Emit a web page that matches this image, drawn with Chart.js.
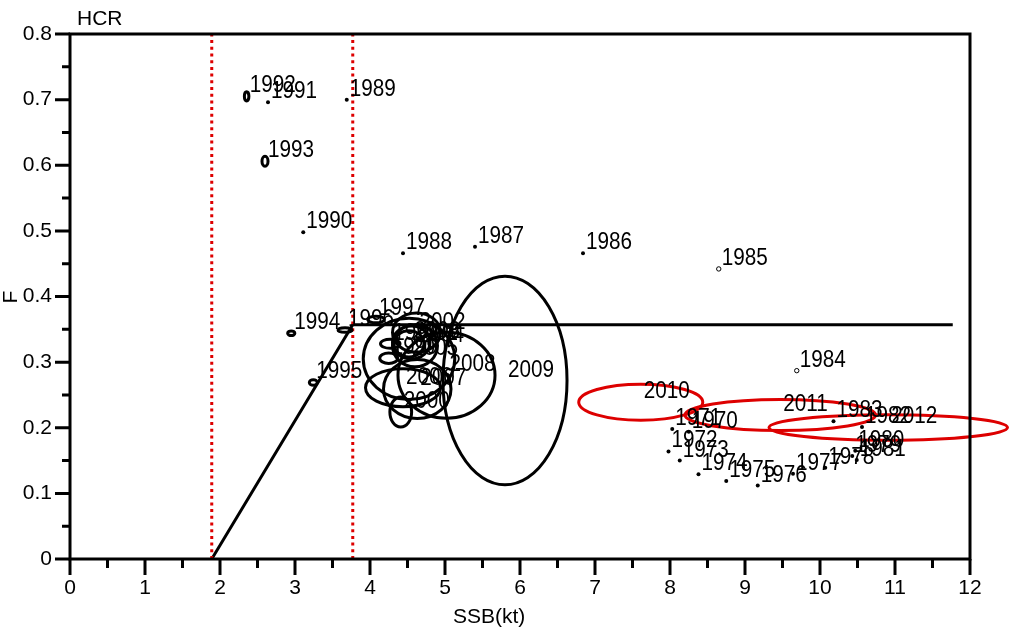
<!DOCTYPE html>
<html>
<head>
<meta charset="utf-8">
<script src="https://cdn.jsdelivr.net/npm/chart.js@4.4.0/dist/chart.umd.min.js"></script>
<style>
  html, body { margin: 0; padding: 0; background: #fff; }
  canvas { display: block; }
</style>
</head>
<body>
<canvas id="grafico" width="1010" height="630"></canvas>
<script>
// anos e estimativas (SSB em kt, F)
const anos = [1970, 1971, 1972, 1973, 1974, 1975, 1976, 1977, 1978, 1979,
  1980, 1981, 1982, 1983, 1984, 1985, 1986, 1987, 1988, 1989,
  1990, 1991, 1992, 1993, 1994, 1995, 1996, 1997, 1998, 1999,
  2000, 2001, 2002, 2003, 2004, 2005, 2006, 2007, 2008, 2009,
  2010, 2011, 2012];
const ssb = [8.25, 8.03, 7.98, 8.13, 8.38, 8.75, 9.17, 9.64, 10.07, 10.43,
  10.47, 10.49, 10.56, 10.18, 9.69, 8.65, 6.84, 5.40, 4.44, 3.69,
  3.11, 2.64, 2.355, 2.60, 2.95, 3.244, 3.667, 4.08, 4.27, 4.25,
  4.41, 4.52, 4.62, 4.55, 4.6, 4.52, 4.44, 4.63, 5.02, 5.8,
  7.61, 9.47, 10.91];
const fbar = [0.194, 0.198, 0.164, 0.150, 0.129, 0.119, 0.112, 0.130, 0.139, 0.157,
  0.165, 0.151, 0.201, 0.210, 0.287, 0.442, 0.466, 0.476, 0.466, 0.700,
  0.498, 0.696, 0.705, 0.606, 0.344, 0.269, 0.349, 0.365, 0.328, 0.306,
  0.224, 0.328, 0.345, 0.33, 0.325, 0.305, 0.261, 0.259, 0.28, 0.272,
  0.239, 0.2195, 0.2005];
// meia-largura (kt) e meia-altura (F) das elipses de confianca
const incSsb = [0, 0, 0, 0, 0, 0, 0, 0, 0, 0,
  0, 0, 0, 0, 0, 0, 0, 0, 0, 0,
  0, 0, 0.03, 0.04, 0.048, 0.053, 0.093, 0.11, 0.13, 0.12,
  0.145, 0.2, 0.32, 0.25, 0.3, 0.61, 0.5, 0.45, 0.647, 0.827,
  0.827, 1.27, 1.59];
const incF = [0, 0, 0, 0, 0, 0, 0, 0, 0, 0,
  0, 0, 0, 0, 0, 0, 0, 0, 0, 0,
  0, 0, 0.007, 0.0076, 0.0035, 0.0043, 0.0035, 0.005, 0.007, 0.008,
  0.023, 0.02, 0.03, 0.025, 0.032, 0.062, 0.029, 0.045, 0.0655, 0.159,
  0.0274, 0.0236, 0.0194];
const abertos = [1984, 1985];

// regra de controle (HCR) e pontos de referencia
const hcrSsb = [1.89, 3.77, 11.77];
const hcrF = [0, 0.357, 0.357];
const bLim = 1.89;
const bTrigger = 3.77;

const xTicks = [0, 1, 2, 3, 4, 5, 6, 7, 8, 9, 10, 11, 12];
const yTicks = [0, 0.1, 0.2, 0.3, 0.4, 0.5, 0.6, 0.7, 0.8];

const preto = '#000000';
const vermelho = '#dd0000';

const pontos = anos.map((a, i) => ({ x: ssb[i], y: fbar[i] }));

const desenhos = {
  id: 'desenhos',
  afterDatasetsDraw(chart) {
    const { ctx, scales: { x, y } } = chart;
    ctx.save();
    anos.forEach((ano, i) => {
      if (!incSsb[i]) return;
      const cx = x.getPixelForValue(ssb[i]);
      const cy = y.getPixelForValue(fbar[i]);
      const rx = Math.abs(x.getPixelForValue(ssb[i] + incSsb[i]) - cx);
      const ry = Math.abs(y.getPixelForValue(fbar[i] + incF[i]) - cy);
      ctx.beginPath();
      ctx.ellipse(cx, cy, rx, ry, 0, 0, Math.PI * 2);
      ctx.lineWidth = 3;
      ctx.strokeStyle = ano >= 2010 ? vermelho : preto;
      ctx.stroke();
    });
    ctx.fillStyle = preto;
    ctx.font = '23px "Liberation Sans", Arial, sans-serif';
    ctx.textBaseline = 'alphabetic';
    anos.forEach((ano, i) => {
      const px = x.getPixelForValue(ssb[i]);
      const py = y.getPixelForValue(fbar[i]);
      ctx.save();
      ctx.translate(px + 3, py - 4);
      ctx.scale(0.9, 1);
      ctx.fillText(String(ano), 0, 0);
      ctx.restore();
    });
    ctx.restore();
  },
  afterDraw(chart) {
    const { ctx, chartArea: a, scales: { x, y } } = chart;
    ctx.save();
    ctx.strokeStyle = preto;
    ctx.lineWidth = 3;
    ctx.strokeRect(a.left, a.top, a.right - a.left, a.bottom - a.top);
    ctx.beginPath();
    for (let v = 0; v <= 12.001; v += 0.5) {
      const px = x.getPixelForValue(v);
      const len = Number.isInteger(v) ? 16 : 9;
      ctx.moveTo(px, a.bottom);
      ctx.lineTo(px, a.bottom + len);
    }
    for (let k = 0; k <= 16; k++) {
      const py = y.getPixelForValue(k * 0.05);
      const len = k % 2 === 0 ? 15 : 8;
      ctx.moveTo(a.left, py);
      ctx.lineTo(a.left - len, py);
    }
    ctx.stroke();

    ctx.fillStyle = preto;
    ctx.font = '21px "Liberation Sans", Arial, sans-serif';
    ctx.textBaseline = 'alphabetic';
    ctx.textAlign = 'left';
    ctx.fillText('HCR', a.left + 7, 25);
    ctx.fillText('SSB(kt)', 453, 623);
    ctx.save();
    ctx.translate(17, 297);
    ctx.rotate(-Math.PI / 2);
    ctx.textAlign = 'center';
    ctx.fillText('F', 0, 0);
    ctx.restore();
    ctx.restore();
  }
};

const ctx = document.getElementById('grafico').getContext('2d');

new Chart(ctx, {
  type: 'scatter',
  data: {
    datasets: [
      {
        data: [{ x: bLim, y: 0 }, { x: bLim, y: 0.8 }],
        showLine: true,
        borderColor: vermelho,
        borderWidth: 3,
        borderDash: [3, 3.7],
        pointRadius: 0,
      },
      {
        data: [{ x: bTrigger, y: 0 }, { x: bTrigger, y: 0.8 }],
        showLine: true,
        borderColor: vermelho,
        borderWidth: 3,
        borderDash: [3, 3.7],
        pointRadius: 0,
      },
      {
        data: hcrSsb.map((v, i) => ({ x: v, y: hcrF[i] })),
        showLine: true,
        borderColor: preto,
        borderWidth: 3,
        pointRadius: 0,
      },
      {
        data: pontos,
        pointRadius: (c) => incSsb[c.dataIndex] ? 0 : (abertos.includes(anos[c.dataIndex]) ? 2.2 : 2),
        pointBackgroundColor: (c) => abertos.includes(anos[c.dataIndex]) ? '#ffffff' : preto,
        pointBorderColor: preto,
        pointBorderWidth: (c) => abertos.includes(anos[c.dataIndex]) ? 1 : 0,
      },
    ],
  },
  options: {
    responsive: false,
    animation: false,
    layout: {
      padding: { top: 34, right: 40, left: 0, bottom: 0 },
    },
    scales: {
      x: {
        type: 'linear',
        min: 0,
        max: 12,
        afterFit: (s) => { s.height = 71; },
        afterBuildTicks: (s) => { s.ticks = xTicks.map((v) => ({ value: v })); },
        grid: { display: false, drawTicks: false },
        border: { display: false },
        ticks: {
          padding: 17,
          color: preto,
          font: { family: '"Liberation Sans", Arial, sans-serif', size: 21 },
        },
      },
      y: {
        type: 'linear',
        min: 0,
        max: 0.8,
        afterFit: (s) => { s.width = 70; },
        afterBuildTicks: (s) => { s.ticks = yTicks.map((v) => ({ value: v })); },
        grid: { display: false, drawTicks: false },
        border: { display: false },
        ticks: {
          padding: 18,
          color: preto,
          font: { family: '"Liberation Sans", Arial, sans-serif', size: 21 },
          callback: (v) => String(Number(v.toFixed(1))),
        },
      },
    },
    plugins: {
      legend: { display: false },
      tooltip: { enabled: false },
    },
  },
  plugins: [desenhos],
});
</script>
</body>
</html>
